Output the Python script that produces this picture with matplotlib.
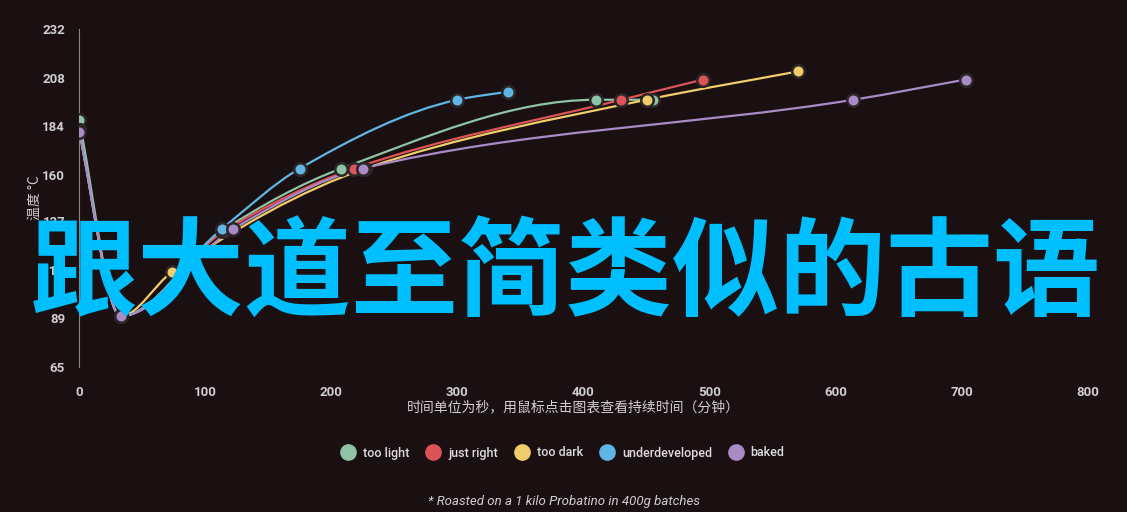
import numpy as np
import matplotlib
matplotlib.use("Agg")
import matplotlib.pyplot as plt
from matplotlib.path import Path
from matplotlib.patches import PathPatch
from matplotlib.lines import Line2D

# roast profiles: time (s) and temperature (°C)
series_names = ["too light", "just right", "too dark", "underdeveloped", "baked"]
series_colors = ["#8ec3a6", "#dd5458", "#f1cc6a", "#5fb6e4", "#a98bc6"]

too_light_t = [0, 33, 113, 208, 410, 455]
too_light_v = [187, 90, 132, 163, 197, 197]
just_right_t = [0, 33, 115, 218, 430, 495]
just_right_v = [182, 90, 132, 163, 197, 207]
too_dark_t = [0, 33, 74, 227, 450, 570]
too_dark_v = [182, 90, 112, 163, 197, 211]
underdeveloped_t = [0, 33, 113, 175, 300, 340]
underdeveloped_v = [182, 90, 133, 163, 197, 201]
baked_t = [0, 33, 122, 225, 614, 703]
baked_v = [181, 90, 133, 163, 197, 207]

y_ticks = [65, 89, 113, 137, 160, 184, 208, 232]
x_ticks = [0, 100, 200, 300, 400, 500, 600, 700, 800]

BG = "#1b1011"
TXT = "#cfcfcf"


def monotone_path(x, y):
    """Fritsch-Carlson monotone cubic, as Bezier segments."""
    x = np.asarray(x, float)
    y = np.asarray(y, float)
    h = np.diff(x)
    d = np.diff(y) / h
    m = np.zeros_like(y)
    m[0], m[-1] = d[0], d[-1]
    for i in range(1, len(x) - 1):
        if d[i - 1] * d[i] <= 0:
            m[i] = 0.0
        else:
            w1 = 2 * h[i] + h[i - 1]
            w2 = h[i] + 2 * h[i - 1]
            m[i] = (w1 + w2) / (w1 / d[i - 1] + w2 / d[i])
    verts = [(x[0], y[0])]
    codes = [Path.MOVETO]
    for i in range(len(x) - 1):
        verts += [(x[i] + h[i] / 3, y[i] + m[i] * h[i] / 3),
                  (x[i + 1] - h[i] / 3, y[i + 1] - m[i + 1] * h[i] / 3),
                  (x[i + 1], y[i + 1])]
        codes += [Path.CURVE4] * 3
    return Path(verts, codes)


plt.rcParams["font.family"] = ["Roboto", "Noto Sans CJK SC", "DejaVu Sans"]
cjk = ["Noto Sans CJK SC", "DejaVu Sans"]

fig = plt.figure(figsize=(11.27, 5.12), dpi=100, facecolor=BG)
ax = fig.add_axes([0.0701, 0.2838, 0.8953, 0.6596], facecolor=BG)

data = [
    (too_light_t, too_light_v),
    (just_right_t, just_right_v),
    (too_dark_t, too_dark_v),
    (underdeveloped_t, underdeveloped_v),
    (baked_t, baked_v),
]

for (t, v), col in zip(data, series_colors):
    ax.add_patch(PathPatch(monotone_path(t, v), facecolor="none",
                           edgecolor=col, lw=1.6, zorder=2))
for (t, v), col in zip(data, series_colors):
    ax.plot(t, v, ls="none", marker="o", ms=9, mfc=col, mec="#2b2627",
            mew=1.8, zorder=3)

ax.set_xlim(0, 800)
ax.set_ylim(65, 232)
ax.set_xticks(x_ticks)
ax.set_yticks(y_ticks)
ax.tick_params(length=0, colors=TXT, labelsize=9.5)
ax.tick_params(axis="x", pad=14)
ax.tick_params(axis="y", pad=10)
for lab in ax.get_xticklabels() + ax.get_yticklabels():
    lab.set_fontweight("bold")
for s in ["top", "right", "bottom"]:
    ax.spines[s].set_visible(False)
ax.spines["left"].set_color("#8a8485")
ax.spines["left"].set_linewidth(0.8)

ax.set_ylabel("温度 °C", color=TXT, fontsize=10, labelpad=0, family=cjk)
ax.set_xlabel("时间单位为秒，用鼠标点击图表查看持续时间（分钟）", color=TXT,
              fontsize=10, family=cjk)
ax.xaxis.set_label_coords(0.49, -0.1)

handles = [Line2D([], [], ls="none", marker="o", ms=11, mfc=c, mec=c)
           for c in series_colors]
fig.legend(handles, series_names, loc="center", ncol=5,
           bbox_to_anchor=(0.497, 1 - 453 / 512), frameon=False,
           labelcolor="#dddddd", handletextpad=0.2, columnspacing=0.9,
           prop={"family": "Roboto", "size": 9, "weight": "medium"})

fig.text(0.5, 1 - 501 / 512, "* Roasted on a 1 kilo Probatino in 400g batches",
         color=TXT, fontsize=9.5, style="italic", ha="center", va="center")

fig.text(0.502, 1 - 277 / 512, "跟大道至简类似的古语", color="#00bfff",
         fontsize=77, fontweight="bold", ha="center", va="center",
         family=cjk, zorder=10)

fig.savefig("out.png", dpi=100, facecolor=BG)
